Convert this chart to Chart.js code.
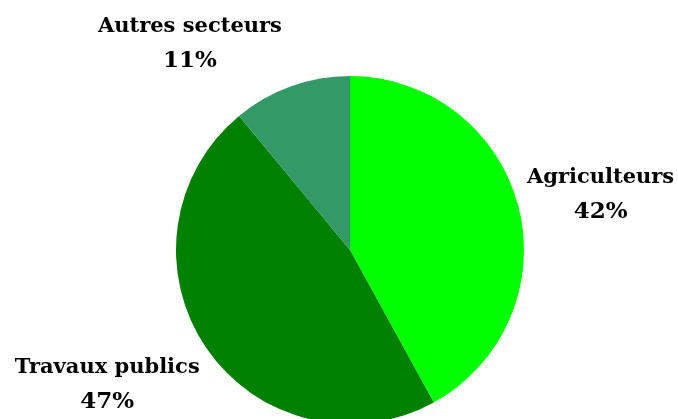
<!DOCTYPE html>
<html><head><meta charset="utf-8">
<script src="https://cdn.jsdelivr.net/npm/chart.js@4/dist/chart.umd.min.js"></script>
<style>html,body{margin:0;padding:0;overflow:hidden;background:#fff}#wrap{width:678px;height:440px}</style>
</head><body>
<div id="wrap"><canvas id="c" width="678" height="440"></canvas></div>
<script>
const categories = ["Agriculteurs", "Travaux publics", "Autres secteurs"];
const values = [42, 47, 11];
const colors = ["#00FF00", "#008000", "#339966"];
// label offsets from pie centre, in units of radius
const labelDx = [1.44, -1.395, -0.92];
const labelDy = [-0.33, 0.765, -1.195];

const labelPlugin = {
  id: 'outLabels',
  afterDatasetsDraw(chart) {
    const ctx = chart.ctx;
    const meta = chart.getDatasetMeta(0);
    const total = values.reduce((a, b) => a + b, 0);
    ctx.save();
    ctx.fillStyle = '#000';
    ctx.textAlign = 'center';
    ctx.textBaseline = 'alphabetic';
    meta.data.forEach((arc, i) => {
      const r = arc.outerRadius;
      const x = arc.x + labelDx[i] * r;
      const y = arc.y + labelDy[i] * r;
      const pct = Math.round(values[i] / total * 100) + '%';
      ctx.font = 'bold 21px "DejaVu Serif"';
      ctx.fillText(categories[i], x, y - 10);
      ctx.font = 'bold 23px "DejaVu Serif"';
      ctx.fillText(pct, x, y + 25);
    });
    ctx.restore();
  }
};

new Chart(document.getElementById('c'), {
  type: 'pie',
  data: { labels: categories, datasets: [{ data: values, backgroundColor: colors, borderWidth: 0 }] },
  options: {
    responsive: false,
    animation: false,
    layout: { padding: { top: 76, bottom: 16, left: 22, right: 0 } },
    plugins: { legend: { display: false }, tooltip: { enabled: false } }
  },
  plugins: [labelPlugin]
});
</script>
</body></html>
